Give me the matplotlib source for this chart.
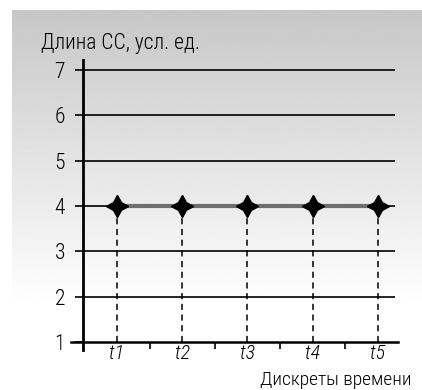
import matplotlib
matplotlib.use("Agg")
import matplotlib.pyplot as plt
import numpy as np

# chart data
categories = ['t1', 't2', 't3', 't4', 't5']
lengths = [4, 4, 4, 4, 4]
y_ticks = [1, 2, 3, 4, 5, 6, 7]
y_label = 'Длина СС, усл. ед.'
x_label = 'Дискреты времени'

plt.rcParams['font.family'] = ['Roboto Condensed', 'DejaVu Sans']
plt.rcParams['font.weight'] = 'light'
FS = 15.5

W, H = 422, 390
fig = plt.figure(figsize=(W / 100, H / 100), dpi=100)

# gray gradient panel behind the chart
bg = fig.add_axes([12 / W, 1 - 307 / H, 410 / W, 297 / H])
grad = np.linspace(0.78, 1.0, 256).reshape(-1, 1)
bg.imshow(grad, cmap='gray', vmin=0, vmax=1, aspect='auto', extent=(0, 1, 0, 1))
bg.axis('off')

ax = fig.add_axes([83 / W, 1 - 350 / H, (395 - 83) / W, (350 - 60) / H])
ax.patch.set_alpha(0)
x = np.arange(len(categories))

ax.set_xlim(-0.52, 4.26)
ax.set_ylim(0.82, 7.22)

# horizontal grid lines
for yv in y_ticks[1:]:
    ax.axhline(yv, color='black', lw=1.2, zorder=1)

# dashed drop lines
ax.vlines(x, 1, lengths, colors='black', lw=1.1, linestyles=(0, (4, 3)), zorder=2)

# series
ax.plot(x, lengths, color='#6e6e6e', lw=3, zorder=3)
ax.plot(x, lengths, linestyle='none', marker=(4, 1, 0), markersize=16,
        color='black', zorder=4)

for s in ['top', 'right']:
    ax.spines[s].set_visible(False)
ax.spines['left'].set_linewidth(2)
ax.spines['bottom'].set_position(('data', 1))
ax.spines['bottom'].set_linewidth(1.8)
ax.spines['bottom'].set_bounds(-0.52 - 12 / 65.25, 4.26 + 3 / 65.25)

ax.set_yticks(y_ticks)
ax.tick_params(axis='y', length=6, width=1.2, pad=7, labelsize=FS)

ax.set_xticks(x)
ax.set_xticklabels(categories, fontsize=14.5, style='italic')
ax.set_xticks(x[:-1] + 0.5, minor=True)
ax.tick_params(axis='x', which='major', length=0, pad=1.5)
ax.tick_params(axis='x', which='minor', length=5, width=1.2, direction='out')

fig.text(41 / W, 1 - 44 / H, y_label, fontsize=FS, va='center', ha='left')
fig.text(411 / W, 0.002, x_label, fontsize=14, va='bottom', ha='right')

fig.savefig('out.png', dpi=100)
